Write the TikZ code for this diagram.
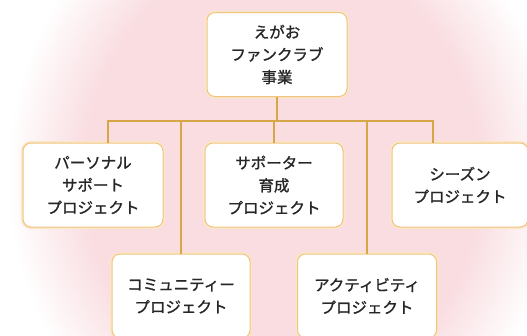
\documentclass[tikz,border=0pt]{standalone}
\usepackage{fontspec}
\newfontfamily\jpfont[FakeBold=1.2]{Noto Sans CJK JP}
\definecolor{pinkbg}{RGB}{249,221,225}
\definecolor{boxedge}{RGB}{240,196,128}
\definecolor{boxglow}{RGB}{251,230,200}
\definecolor{linkgold}{RGB}{214,166,72}
\definecolor{textgray}{RGB}{38,38,38}
\pgfdeclareradialshading{bgshade}{\pgfpoint{0bp}{0bp}}{color(0bp)=(pinkbg); color(18bp)=(pinkbg); color(25bp)=(white); color(50bp)=(white)}
\begin{document}
\begin{tikzpicture}[x=1pt,y=-1pt]
		\tikzstyle{proj}=[rectangle,rounded corners=8pt,draw=boxedge,line width=1pt,fill=white,
			preaction={draw=boxglow,line width=4pt},align=center,text=textgray,
			minimum width=138pt,minimum height=84pt,inner sep=0pt,
			font=\jpfont\fontsize{15.5}{22.5}\selectfont]
		\tikzstyle{link}=[linkgold,line width=1.8pt]
		
		\clip (0,0) rectangle (527,335);
		\shade[shading=bgshade] (282,175) ellipse (275 and 310);
		
		\node [proj, minimum width=140pt] (top) at (277, 54.5) {えがお\\ファンクラブ\\事業};
		
		\node [proj, minimum width=140pt] (per) at ( 93, 185) {パーソナル\\サポート\\プロジェクト};
		\node [proj] (sup) at (274, 185) {サポーター\\育成\\プロジェクト};
		\node [proj, minimum width=136pt] (sea) at (460, 185) {シーズン\\プロジェクト};
		\node [proj] (com) at (181, 296) {コミュニティー\\プロジェクト};
		\node [proj, minimum width=139pt] (act) at (367, 296) {アクティビティ\\プロジェクト};
		
		\coordinate (barL) at (108, 121);
		\coordinate (barR) at (433, 121);
		
		\draw[link] (per.north -| barL) -- (barL) -- (barR) -- (barR |- sea.north);
		\draw[link] (top.south) -- (top.south |- barL);
		\draw[link] (sup.north) -- (sup.north |- barL);
		\draw[link] (com.north) -- (com.north |- barL);
		\draw[link] (act.north) -- (act.north |- barL);
	\end{tikzpicture}
\end{document}
